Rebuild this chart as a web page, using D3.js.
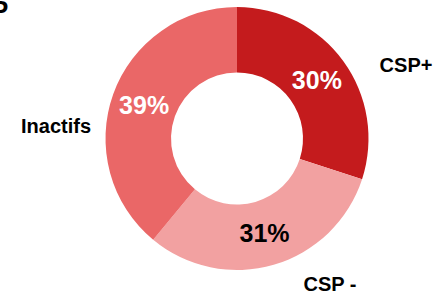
<!DOCTYPE html>
<html>
<head>
<meta charset="utf-8">
<script src="https://cdn.jsdelivr.net/npm/d3@7"></script>
<style>
  body { margin: 0; background: #fff; }
  svg text { font-family: "Liberation Sans", Arial, sans-serif; font-weight: bold; }
</style>
</head>
<body>
<div id="chart"></div>
<script>
// data
var categories = ["CSP+", "CSP -", "Inactifs"];
var values = [30, 31, 39];
var colors = ["#C41B1D", "#F2A1A1", "#EA6767"];
var pctColors = ["#fff", "#000", "#fff"];

var width = 436, height = 295;
var cx = 237, cy = 138.5;
var outerR = 131.5, innerR = 66;

// where the outside category labels sit (relative to the center)
var outsidePos = [[169, -67], [93, 152], [-181, -6]];

var svg = d3.select("#chart").append("svg").attr("width", width).attr("height", height);

// cut-off title letter at the top left
svg.append("text").attr("x", -9).attr("y", 19).text("P").style("font-size", "26px").attr("fill", "#000");

var g = svg.append("g").attr("transform", "translate(" + cx + "," + cy + ")");

var pie = d3.pie().sort(null).value(function (d) { return d; });
var arc = d3.arc().innerRadius(innerR).outerRadius(outerR);
var slices = pie(values);

g.selectAll("path").data(slices).enter().append("path")
  .attr("d", arc)
  .attr("fill", function (d, i) { return colors[i]; });

// percentage labels inside the ring
g.selectAll(".pct").data(slices).enter().append("text")
  .attr("class", "pct")
  .attr("transform", function (d) { var c = arc.centroid(d); return "translate(" + c[0] + "," + (c[1] + 9) + ")"; })
  .attr("text-anchor", "middle")
  .style("font-size", "25px")
  .attr("fill", function (d, i) { return pctColors[i]; })
  .text(function (d) { return d.data + "%"; });

// category labels
g.selectAll(".cat").data(categories).enter().append("text")
  .attr("class", "cat")
  .attr("x", function (d, i) { return outsidePos[i][0]; })
  .attr("y", function (d, i) { return outsidePos[i][1]; })
  .attr("text-anchor", "middle")
  .style("font-size", "20px")
  .attr("fill", "#000")
  .text(function (d) { return d; });
</script>
</body>
</html>
